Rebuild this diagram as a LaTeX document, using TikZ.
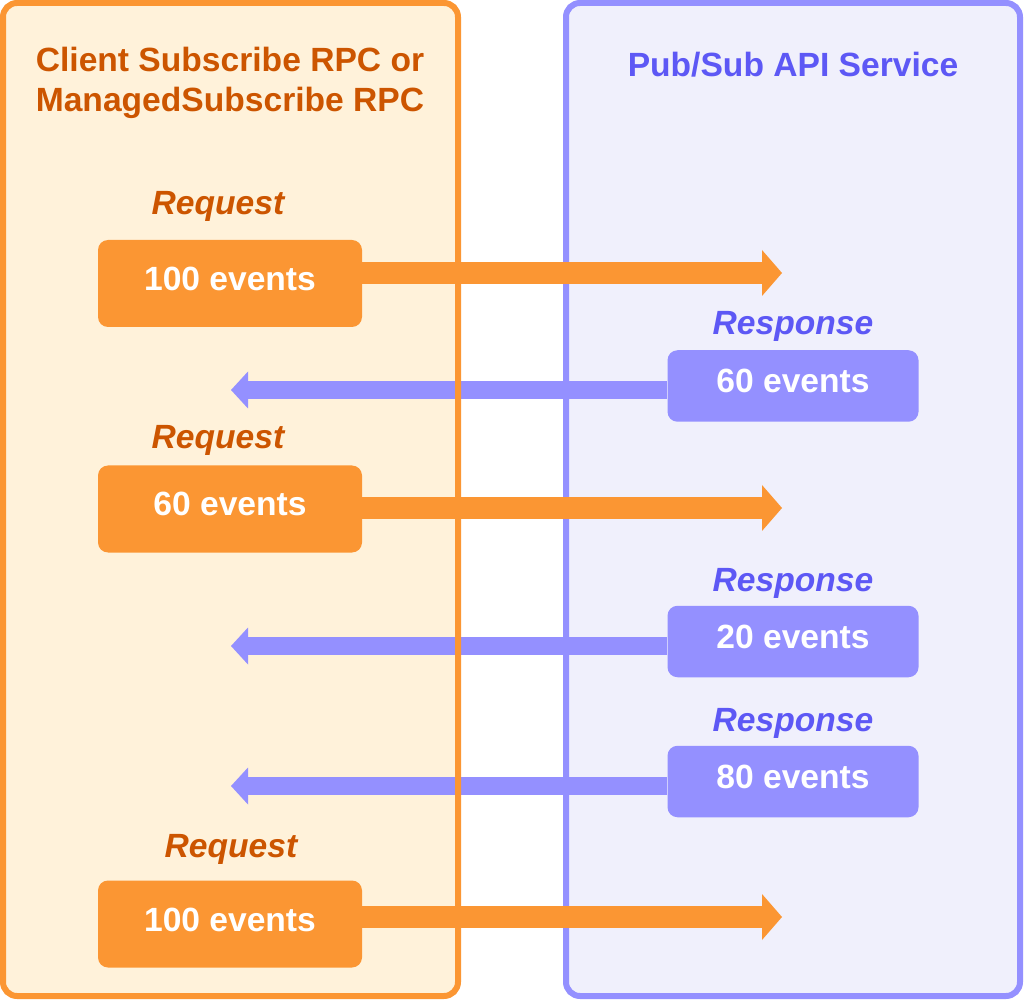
\documentclass[tikz,border=0pt]{standalone}
\usepackage{fontspec}
\setmainfont{Liberation Sans}
\usetikzlibrary{arrows.meta}

\definecolor{reqorange}{HTML}{FB9633}
\definecolor{reqtext}{HTML}{CC5500}
\definecolor{reqback}{HTML}{FFF2DA}
\definecolor{resblue}{HTML}{9490FF}
\definecolor{restext}{HTML}{5D58F5}
\definecolor{resback}{HTML}{F0F0FC}

\tikzset{
  bigfont/.style={font=\fontsize{16.8}{20}\selectfont\bfseries},
  reqbox/.style={bigfont, fill=reqorange, text=white, rounded corners=5pt, inner sep=0pt,
    minimum width=132pt, minimum height=43.5pt, text height=12pt, text depth=5pt},
  resbox/.style={reqbox, fill=resblue, minimum width=125.5pt, minimum height=35.75pt},
  reqlabel/.style={font=\fontsize{16.8}{20}\selectfont\bfseries\itshape, text=reqtext, anchor=base, inner sep=0pt},
  reslabel/.style={reqlabel, text=restext},
  reqarrow/.style={draw=reqorange, line width=11pt, -{Triangle[width=23pt,length=10pt,line width=0pt]}},
  resarrow/.style={draw=resblue, line width=9pt, -{Triangle[width=18.5pt,length=8.5pt,line width=0pt]}}
}

\begin{document}
\begin{tikzpicture}[x=0.5pt, y=-0.5pt]
        \useasboundingbox (0,0) rectangle (1024,1000);

        % the two sides
        \fill[reqback, rounded corners=7pt] (3,3) rectangle (458,996);
        \filldraw[fill=resback, draw=resblue, line width=3pt, rounded corners=7pt] (566,3) rectangle (1020,996);

        \node[bigfont, text=reqtext, align=center, anchor=base, inner sep=0pt] (clienttitle) at (230,112) {Client Subscribe RPC or\\ManagedSubscribe RPC};
        \node[bigfont, text=restext, anchor=base, inner sep=0pt] (apititle) at (793,77) {Pub/Sub API Service};

        % requests
        \node[reqlabel] (reqlabel1) at (218,215) {Request};
        \node[reqbox] (req1) at (230,283.5) {100 events};
        \node[reqlabel] (reqlabel2) at (218,449) {Request};
        \node[reqbox] (req2) at (230,509) {60 events};
        \node[reqlabel] (reqlabel3) at (231,857) {Request};
        \node[reqbox] (req3) at (230,924) {100 events};

        % responses
        \node[reslabel] (reslabel1) at (793,335) {Response};
        \node[resbox] (res1) at (793,386) {60 events};
        \node[reslabel] (reslabel2) at (793,591) {Response};
        \node[resbox] (res2) at (793,641.5) {20 events};
        \node[reslabel] (reslabel3) at (793,731) {Response};
        \node[resbox] (res3) at (793,781.5) {80 events};

        \coordinate (reqtip1) at (782,273);
        \coordinate (reqtip2) at (782,508);
        \coordinate (reqtip3) at (782,917);
        \coordinate (restip1) at (231,390);
        \coordinate (restip2) at (231,646);
        \coordinate (restip3) at (231,786);

        \draw[reqarrow] (req1.east |- reqtip1) -- (reqtip1);
        \draw[reqarrow] (req2.east |- reqtip2) -- (reqtip2);
        \draw[reqarrow] (req3.east |- reqtip3) -- (reqtip3);
        \draw[resarrow] (res1.west |- restip1) -- (restip1);
        \draw[resarrow] (res2.west |- restip2) -- (restip2);
        \draw[resarrow] (res3.west |- restip3) -- (restip3);

        %\draw[reqorange, line width=3pt] (458,3) -- (458,996);
        \draw[reqorange, line width=3pt, rounded corners=7pt] (3,3) rectangle (458,996);
    \end{tikzpicture}
\end{document}
